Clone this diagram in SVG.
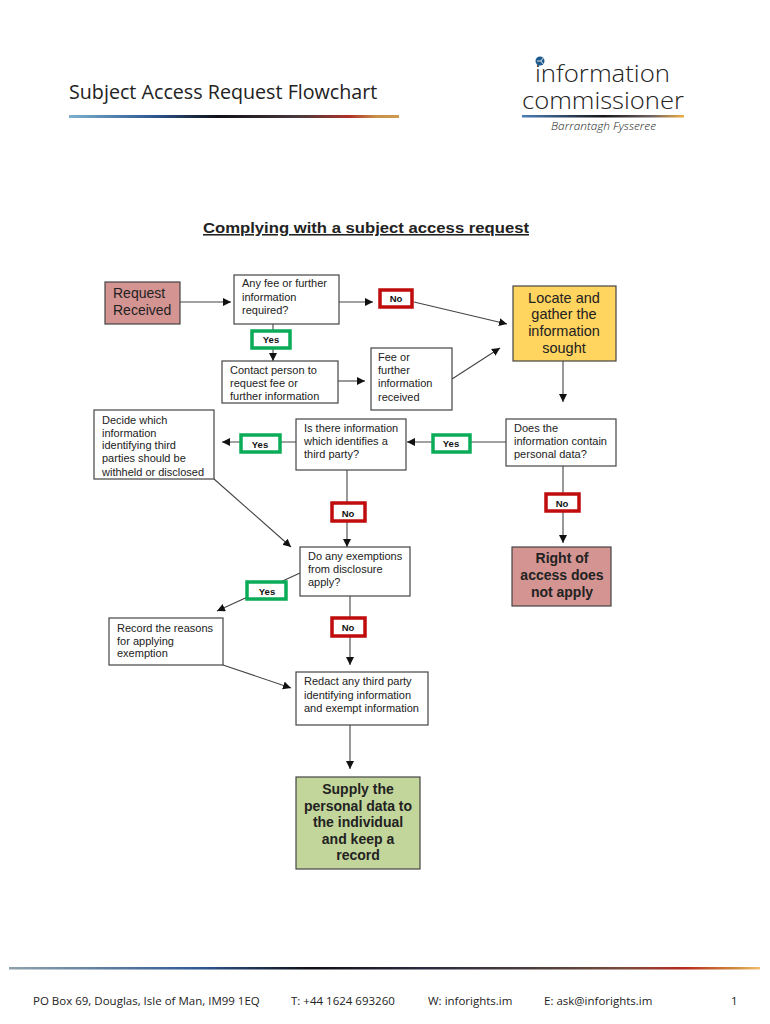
<svg xmlns="http://www.w3.org/2000/svg" width="770" height="1024" viewBox="0 0 770 1024">
<defs>
<linearGradient id="bar" x1="0" x2="1" y1="0" y2="0">
<stop offset="0" stop-color="#8fa3ad"/><stop offset="0.25" stop-color="#2f5a94"/><stop offset="0.4" stop-color="#101018"/><stop offset="0.55" stop-color="#2a2a40"/><stop offset="0.72" stop-color="#52403c"/><stop offset="0.82" stop-color="#7a4a3a"/><stop offset="0.9" stop-color="#b8281e"/><stop offset="0.97" stop-color="#d09040"/><stop offset="1" stop-color="#f0c070"/>
</linearGradient>
<linearGradient id="bar2" x1="0" x2="1" y1="0" y2="0">
<stop offset="0" stop-color="#7fb0cc"/><stop offset="0.25" stop-color="#2f5a94"/><stop offset="0.45" stop-color="#101018"/><stop offset="0.7" stop-color="#4a3a3c"/><stop offset="0.85" stop-color="#b03028"/><stop offset="0.93" stop-color="#c89048"/><stop offset="1" stop-color="#d09a50"/>
</linearGradient>
<linearGradient id="bar3" x1="0" x2="1" y1="0" y2="0">
<stop offset="0" stop-color="#4a80b8"/><stop offset="0.5" stop-color="#151518"/><stop offset="0.8" stop-color="#706060"/><stop offset="1" stop-color="#f0b040"/>
</linearGradient>
<marker id="arr" markerWidth="9" markerHeight="9" refX="8" refY="4" orient="auto" markerUnits="userSpaceOnUse"><path d="M0 0L8 4L0 8Z" fill="#111"/></marker>
</defs>
<style>
.hd{font-family:"Open Sans","Noto Sans",sans-serif;fill:#222}
.lt{font-weight:300}
.t{font-family:"Liberation Sans",Arial,sans-serif;font-size:11px;fill:#222}
.big{font-family:"Liberation Sans",Arial,sans-serif;font-size:14.5px;fill:#222;text-anchor:middle}
.big.b{font-weight:bold;font-size:14px}
.lab{font-family:"Liberation Sans",Arial,sans-serif;font-size:9.5px;fill:#111;text-anchor:middle;font-weight:bold}
.box{fill:#fff;stroke:#444;stroke-width:1.2}
.y{fill:#fff;stroke:#0aac58;stroke-width:3.5}
.n{fill:#fff;stroke:#c00c0c;stroke-width:3.5}
.c{fill:none;stroke:#444;stroke-width:1.1;marker-end:url(#arr)}
</style>
<rect width="770" height="1024" fill="#fff"/>
<g id="header">
<text class="hd" x="69" y="99" font-size="19.7">Subject Access Request Flowchart</text>
<rect x="69" y="115" width="330" height="3" fill="url(#bar2)"/>
</g>
<g id="logo">
<circle cx="540" cy="61" r="4.5" fill="#1f5a8c"/>
<path d="M537 61H541L543 58M541 61L543 64" fill="none" stroke="#fff" stroke-width="0.8"/>
<text class="hd lt" x="535" y="82" font-size="24" textLength="135" lengthAdjust="spacingAndGlyphs">information</text>
<text class="hd lt" x="522" y="109" font-size="24" textLength="162" lengthAdjust="spacingAndGlyphs">commissioner</text>
<rect x="522" y="115" width="162" height="2.5" fill="url(#bar3)"/>
<text class="hd lt" x="551" y="130" font-size="11.4" font-style="italic" textLength="105" lengthAdjust="spacingAndGlyphs">Barrantagh Fysseree</text>
</g>
<g id="title">
<text x="203" y="233" font-family="Liberation Sans,Arial,sans-serif" font-size="15.5" font-weight="bold" fill="#222" text-decoration="underline" textLength="326" lengthAdjust="spacingAndGlyphs">Complying with a subject access request</text>
</g>
<g id="connectors">
<path class="c" d="M180 302H231"/>
<path class="c" d="M339 302H373"/>
<path class="c" d="M414 302L507 324"/>
<path class="c" d="M273 324V361"/>
<path class="c" d="M338 381H365"/>
<path class="c" d="M452 379L500 348"/>
<path class="c" d="M563 361V402"/>
<path class="c" d="M506 442H407"/>
<path class="c" d="M296 442H222"/>
<path class="c" d="M347 470V547"/>
<path class="c" d="M214 479L291 547"/>
<path class="c" d="M563 466V543"/>
<path class="c" d="M300 573L217 611"/>
<path class="c" d="M350 596V665"/>
<path class="c" d="M223 665L291 688"/>
<path class="c" d="M350 725V769"/>
</g>
<g id="request-received"><rect class="box" x="105" y="282" width="75" height="42" style="fill:#d39492"/><text x="113" y="298" class="t" style="font-size:14px">Request</text><text x="113" y="315" class="t" style="font-size:14px">Received</text></g>
<g id="any-fee"><rect class="box" x="234" y="275" width="105" height="49"/><text class="t" x="242" y="287">Any fee or further</text><text class="t" x="242" y="301">information</text><text class="t" x="242" y="314">required?</text></g>
<g id="no-1"><rect class="n" x="380" y="290" width="32" height="17"/><text class="lab" x="396" y="302">No</text></g>
<g id="yes-1"><rect class="y" x="252" y="331" width="38" height="17"/><text class="lab" x="271" y="343">Yes</text></g>
<g id="contact"><rect class="box" x="222" y="361" width="116" height="42"/><text class="t" x="230" y="374">Contact person to</text><text class="t" x="230" y="387">request fee or</text><text class="t" x="230" y="400">further information</text></g>
<g id="fee-received"><rect class="box" x="371" y="348" width="81" height="62"/><text class="t" x="378" y="361">Fee or</text><text class="t" x="378" y="374">further</text><text class="t" x="378" y="387">information</text><text class="t" x="378" y="401">received</text></g>
<g id="locate"><rect class="box" x="513" y="286" width="103" height="75" style="fill:#ffd45f"/><text class="big" x="564" y="303">Locate and</text><text class="big" x="564" y="319">gather the</text><text class="big" x="564" y="336">information</text><text class="big" x="564" y="353">sought</text></g>
<g id="does-info"><rect class="box" x="506" y="419" width="110" height="47"/><text class="t" x="514" y="432">Does the</text><text class="t" x="514" y="445">information contain</text><text class="t" x="514" y="458">personal data?</text></g>
<g id="yes-2"><rect class="y" x="433" y="435" width="37" height="17"/><text class="lab" x="451" y="447">Yes</text></g>
<g id="third-party"><rect class="box" x="296" y="419" width="110" height="51"/><text class="t" x="304" y="432">Is there information</text><text class="t" x="304" y="445">which identifies a</text><text class="t" x="304" y="458">third party?</text></g>
<g id="yes-3"><rect class="y" x="241" y="435" width="39" height="17"/><text class="lab" x="260" y="448">Yes</text></g>
<g id="decide"><rect class="box" x="94" y="410" width="120" height="69"/><text class="t" x="102" y="424">Decide which</text><text class="t" x="102" y="437">information</text><text class="t" x="102" y="449">identifying third</text><text class="t" x="102" y="462">parties should be</text><text class="t" x="102" y="476">withheld or disclosed</text></g>
<g id="no-2"><rect class="n" x="332" y="503" width="33" height="18"/><text class="lab" x="348" y="517">No</text></g>
<g id="no-3"><rect class="n" x="546" y="494" width="33" height="17"/><text class="lab" x="562" y="507">No</text></g>
<g id="no-access"><rect class="box" x="512" y="547" width="99" height="59" style="fill:#d39492"/><text class="big b" x="562" y="563">Right of</text><text class="big b" x="562" y="580">access does</text><text class="big b" x="562" y="597">not apply</text></g>
<g id="exemptions"><rect class="box" x="300" y="547" width="110" height="49"/><text class="t" x="308" y="560">Do any exemptions</text><text class="t" x="308" y="573">from disclosure</text><text class="t" x="308" y="586">apply?</text></g>
<g id="yes-4"><rect class="y" x="247" y="582" width="39" height="17"/><text class="lab" x="267" y="595">Yes</text></g>
<g id="reasons"><rect class="box" x="109" y="618" width="114" height="47"/><text class="t" x="117" y="632">Record the reasons</text><text class="t" x="117" y="645">for applying</text><text class="t" x="117" y="657">exemption</text></g>
<g id="no-4"><rect class="n" x="332" y="618" width="33" height="18"/><text class="lab" x="348" y="631">No</text></g>
<g id="redact"><rect class="box" x="296" y="672" width="132" height="53"/><text class="t" x="304" y="685">Redact any third party</text><text class="t" x="304" y="699">identifying information</text><text class="t" x="304" y="712">and exempt information</text></g>
<g id="supply"><rect class="box" x="296" y="777" width="124" height="92" style="fill:#c2d69b"/><text class="big b" x="358" y="794">Supply the</text><text class="big b" x="358" y="811">personal data to</text><text class="big b" x="358" y="827">the individual</text><text class="big b" x="358" y="844">and keep a</text><text class="big b" x="358" y="860">record</text></g>
<g id="footer">
<rect x="9" y="967" width="751" height="2.5" fill="url(#bar)"/>
<text class="hd" x="33" y="1005" font-size="11.5">PO Box 69, Douglas, Isle of Man, IM99 1EQ</text>
<text class="hd" x="291" y="1005" font-size="11.5">T: +44 1624 693260</text>
<text class="hd" x="428" y="1005" font-size="11.5">W: inforights.im</text>
<text class="hd" x="544" y="1005" font-size="11.5">E: ask@inforights.im</text>
<text class="hd" x="731" y="1005" font-size="11.5">1</text>
</g>
</svg>
